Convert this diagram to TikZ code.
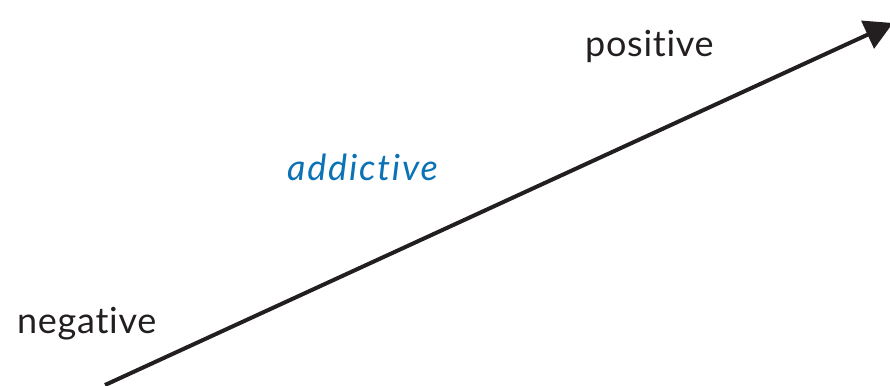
\documentclass[tikz,border=0pt]{standalone}
\usepackage{fontspec}
\setmainfont{Lato}[Ligatures=NoCommon]
\usetikzlibrary{arrows.meta}
\definecolor{txt}{HTML}{231F20}
\definecolor{blu}{HTML}{0B72B5}
\tikzset{
  lbl/.style={inner sep=0pt, anchor=base west, text=txt, font=\fontsize{36}{42}\selectfont\addfontfeatures{LetterSpace=2}},
  axis/.style={draw=txt, line width=4pt, -{Triangle[length=28pt,width=30pt]}}
}
\begin{document}
\begin{tikzpicture}[x=1pt,y=-1pt]
\useasboundingbox (0,0) rectangle (890,385);
\coordinate (s) at (105,385);
\coordinate (e) at (893,23);
\draw[axis] (s) -- (e);
\node[lbl] (pos) at (585,57) {positive};
\node[lbl] (neg) at (17,333) {negative};
\node[lbl, text=blu, font=\fontsize{36}{42}\selectfont\itshape\addfontfeatures{LetterSpace=5}] (add) at (287,180) {addictive};
\end{tikzpicture}
\end{document}
